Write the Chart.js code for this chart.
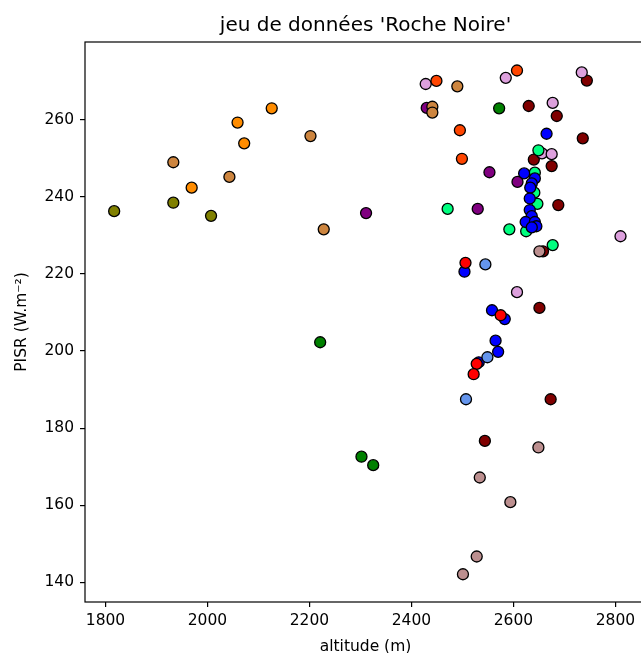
<!DOCTYPE html>
<html lang="fr">
<head>
<meta charset="UTF-8">
<title>jeu de données 'Roche Noire'</title>
<style>
  html, body { margin: 0; padding: 0; background: #fff; overflow: hidden; }
  canvas { display: block; }
</style>
<script src="https://cdn.jsdelivr.net/npm/chart.js"></script>
</head>
<body>
<canvas id="myChart" width="680" height="653"></canvas>
<script>
// altitude (m) de chaque point
const altitude = [
  2311, 2430, 2553, 2608, 2530,                                                  // purple
  2630, 2744, 2685, 2736, 2640, 2675, 2688, 2658, 2651, 2544, 2673,              // maroon
  2428, 2585, 2734, 2677, 2656, 2675, 2810, 2607,                                // plum
  2471, 2592, 2625, 2647, 2641, 2642, 2649, 2677,                                // springgreen
  2665, 2621, 2642, 2636, 2633, 2632, 2632, 2636, 2624, 2642, 2645, 2636,
  2504, 2558, 2583, 2565, 2570, 2532,                                            // blue
  2506, 2575, 2528, 2522,                                                        // red
  2545, 2549, 2507,                                                              // cornflowerblue
  2651, 2649, 2534, 2594, 2528, 2501,                                            // rosybrown
  1933, 2043, 2202, 2228, 2490, 2441, 2441,                                      // peru
  1969, 2059, 2072, 2126,                                                        // darkorange
  2449, 2495, 2499, 2607,                                                        // orangered
  2221, 2302, 2325, 2572,                                                        // green
  1817, 1933, 2007                                                               // olive
];

// PISR (W.m-2) de chaque point
const pisr = [
  235.8, 263.1, 246.4, 243.9, 236.9,
  263.6, 270.2, 261.0, 255.2, 249.7, 248.0, 237.9, 225.9, 211.2, 176.7, 187.5,
  269.3, 270.9, 272.3, 264.4, 251.3, 251.1, 229.8, 215.3,
  236.9, 231.6, 231.1, 238.2, 241.1, 246.3, 252.1, 227.5,
  256.4, 246.1, 244.8, 243.5, 242.4, 239.6, 236.6, 235.0, 233.5, 233.5, 232.4, 232.1,
  220.6, 210.6, 208.3, 202.7, 199.8, 197.1,
  222.9, 209.3, 196.7, 194.0,
  222.5, 198.4, 187.5,
  225.9, 175.0, 167.2, 160.8, 146.7, 142.1,
  249.0, 245.2, 255.8, 231.6, 268.7, 263.4, 261.9,
  242.4, 259.3, 253.9, 263.0,
  270.1, 257.3, 249.9, 272.8,
  202.3, 172.6, 170.4, 263.0,
  236.3, 238.5, 235.1
];

// couleur de chaque groupe et nombre de points par groupe
const couleurs = ['#800080', '#800000', '#DDA0DD', '#00FF7F', '#0000FF', '#FF0000', '#6495ED',
                  '#BC8F8F', '#CD853F', '#FF8C00', '#FF4500', '#008000', '#808000'];
const effectifs = [5, 11, 8, 8, 18, 4, 3, 6, 7, 4, 4, 4, 3];

const xTicks = [1800, 2000, 2200, 2400, 2600, 2800];
const yTicks = [140, 160, 180, 200, 220, 240, 260];

const police = 'DejaVu Sans';

var points = [], fonds = [];
for (var i = 0; i < altitude.length; i++) {
    points.push({ x: altitude[i], y: pisr[i] });
}
for (var g = 0; g < couleurs.length; g++) {
    for (var k = 0; k < effectifs[g]; k++) fonds.push(couleurs[g]);
}

// cadre noir autour de la zone de tracé
const cadre = {
    id: 'cadre',
    afterDatasetsDraw(chart) {
        const a = chart.chartArea, ctx = chart.ctx;
        ctx.save();
        ctx.strokeStyle = '#000';
        ctx.lineWidth = 1.2;
        ctx.strokeRect(a.left, a.top, a.right - a.left, a.bottom - a.top);
        ctx.restore();
    }
};

new Chart(document.getElementById('myChart'), {
    type: 'scatter',
    data: {
        datasets: [{
            data: points,
            backgroundColor: fonds,
            borderColor: '#000',
            borderWidth: 1.3,
            pointRadius: 5.5,
            pointHoverRadius: 5.5
        }]
    },
    options: {
        responsive: false,
        animation: false,
        devicePixelRatio: 1,
        layout: { padding: { left: 0, top: 0, bottom: 0, right: 34 } },
        plugins: {
            legend: { display: false },
            tooltip: { enabled: false },
            title: {
                display: true,
                text: "jeu de données 'Roche Noire'",
                fullSize: false,
                color: '#000',
                font: { family: police, size: 20, weight: 'normal', lineHeight: 1.2 },
                padding: { top: 14, bottom: 4 }
            }
        },
        scales: {
            x: {
                type: 'linear',
                min: 1759.8,
                max: 2860,
                afterBuildTicks: function (s) { s.ticks = xTicks.map(v => ({ value: v })); },
                afterFit: function (s) { s.height = 51; },
                border: { display: false },
                grid: { display: true, drawOnChartArea: false, drawTicks: true, tickLength: 5, color: '#000', lineWidth: 1.2 },
                ticks: {
                    color: '#000', padding: 5, maxRotation: 0,
                    font: { family: police, size: 15.5 },
                    callback: function (v) { return String(v); }
                },
                title: {
                    display: true, text: 'altitude (m)', color: '#000',
                    font: { family: police, size: 15.5, lineHeight: 1.2 },
                    padding: { top: 0, bottom: -3 }
                }
            },
            y: {
                type: 'linear',
                min: 134.9,
                max: 280.2,
                afterBuildTicks: function (s) { s.ticks = yTicks.map(v => ({ value: v })); },
                afterFit: function (s) { s.width = 85; },
                border: { display: false },
                grid: { display: true, drawOnChartArea: false, drawTicks: true, tickLength: 5, color: '#000', lineWidth: 1.2 },
                ticks: {
                    color: '#000', padding: 6,
                    font: { family: police, size: 15.5 },
                    callback: function (v) { return String(v); }
                },
                title: {
                    display: true, text: 'PISR (W.m⁻²)', color: '#000',
                    font: { family: police, size: 15.5, lineHeight: 1.2 },
                    padding: { top: 12.7, bottom: 0 }
                }
            }
        }
    },
    plugins: [cadre]
});
</script>
</body>
</html>
